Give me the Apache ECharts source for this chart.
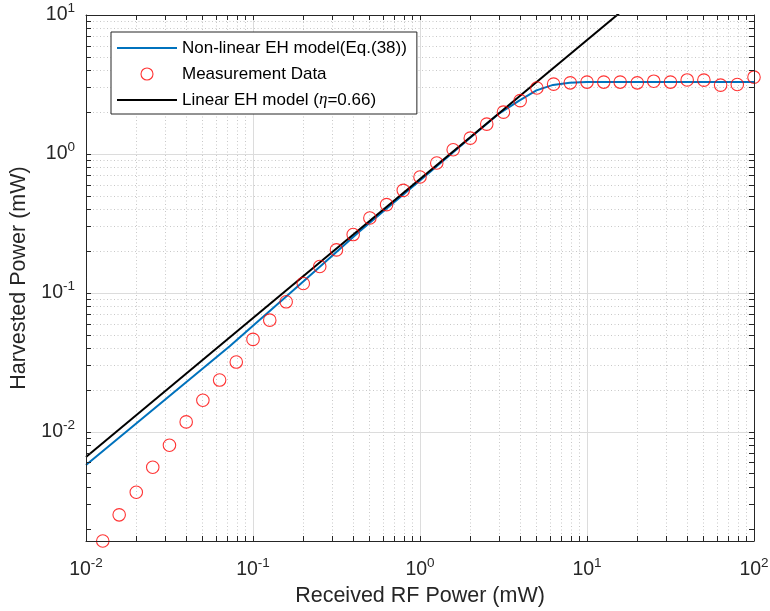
<!DOCTYPE html>
<html>
<head>
<meta charset="utf-8">
<script src="https://cdn.jsdelivr.net/npm/echarts@6/dist/echarts.min.js"></script>
<style>
html,body{margin:0;padding:0;background:#ffffff;}
#chart{width:770px;height:611px;}
</style>
</head>
<body>
<div id="chart"></div>
<script>
// ---- data ----
const rfPower = [0.0126, 0.0158, 0.0200, 0.0251, 0.0316, 0.0398, 0.0501, 0.0631, 0.0794, 0.100,
                 0.126, 0.158, 0.200, 0.251, 0.316, 0.398, 0.501, 0.631, 0.794, 1.00,
                 1.26, 1.58, 2.00, 2.51, 3.16, 3.98, 5.01, 6.31, 7.94, 10.0,
                 12.6, 15.8, 20.0, 25.1, 31.6, 39.8, 50.1, 63.1, 79.4, 100];
const measured = [0.00164, 0.00253, 0.00368, 0.00557, 0.00801, 0.0118, 0.0169, 0.0236, 0.0318, 0.0463,
                  0.0637, 0.0863, 0.117, 0.155, 0.204, 0.263, 0.346, 0.432, 0.547, 0.682,
                  0.861, 1.072, 1.30, 1.64, 2.00, 2.42, 2.98, 3.18, 3.25, 3.29,
                  3.29, 3.29, 3.25, 3.34, 3.29, 3.41, 3.40, 3.13, 3.16, 3.57];
const nonlinearX = [0.01, 0.0725, 0.2, 0.4355, 1.0, 2.0, 3.0, 3.95, 4.98, 6.26, 7.88, 9.92, 100];
const nonlinearY = [0.00577, 0.0414, 0.121, 0.2774, 0.645, 1.31, 1.97, 2.43, 2.87, 3.14, 3.26, 3.30, 3.30];
const linearX = [0.01, 100];
const linearY = [0.0066, 66];
const xMajorTicks = [0.01, 0.1, 1, 10, 100];
const yMajorTicks = [0.01, 0.1, 1, 10];
const yDecadeStarts = [0.001, 0.01, 0.1, 1];
const xDecadeStarts = [0.01, 0.1, 1, 10];
const names = ['Non-linear EH model(Eq.(38))', 'Measurement Data', 'Linear EH model (η=0.66)'];

// ---- helpers ----
const FONT = '"Liberation Sans", Arial, Helvetica, sans-serif';
const AXIS_COLOR = '#262626';
function minors(starts, lo, hi) {
  const out = [];
  starts.forEach(d => { for (let k = 2; k <= 9; k++) { const v = +(d * k).toPrecision(3); if (v >= lo && v <= hi) out.push(v); } });
  return out;
}
const yMin = measured[0], yMax = 10, xMin = 0.01, xMax = 100;
const xMinor = minors(xDecadeStarts, xMin, xMax);
const yMinor = minors(yDecadeStarts, yMin, yMax);
const xAllTicks = xMajorTicks.concat(xMinor).sort((a, b) => a - b);
const yAllTicks = yMajorTicks.concat(yMinor).sort((a, b) => a - b);

function supLabel(v) {
  const e = Math.round(Math.log10(v));
  return '{b|10}{s|' + e + '}';
}
const labelRich = {
  b: {fontSize: 19.5, fontFamily: FONT, color: AXIS_COLOR, lineHeight: 28, verticalAlign: 'middle'},
  s: {fontSize: 13.5, fontFamily: FONT, color: AXIS_COLOR, lineHeight: 12, verticalAlign: 'top'}
};

function pairs(xs, ys) { return xs.map((x, i) => [x, ys[i]]); }

const gridLines = [];
xMinor.forEach(v => gridLines.push({xAxis: v, lineStyle: {color: '#c8c8c8', width: 1, type: [1, 2.5]}}));
yMinor.forEach(v => gridLines.push({yAxis: v, lineStyle: {color: '#c8c8c8', width: 1, type: [1, 2.5]}}));
xMajorTicks.forEach(v => gridLines.push({xAxis: v, lineStyle: {color: '#dcdcdc', width: 1, type: 'solid'}}));
yMajorTicks.forEach(v => gridLines.push({yAxis: v, lineStyle: {color: '#dcdcdc', width: 1, type: 'solid'}}));

function logAxis(pos, min, max, allTicks, majors, withLabels, name) {
  const a = {
    type: 'log', logBase: 10, min: min, max: max, position: pos, gridIndex: 0, z: 5,
    axisLine: {show: true, onZero: false, lineStyle: {color: AXIS_COLOR, width: 1}},
    axisTick: {show: true, inside: true, length: 5, customValues: allTicks, lineStyle: {color: AXIS_COLOR, width: 1}},
    minorTick: {show: false},
    splitLine: {show: false},
    minorSplitLine: {show: false},
    axisLabel: {show: false}
  };
  if (withLabels) {
    a.axisLabel = {show: true, customValues: majors, formatter: supLabel, rich: labelRich,
                   margin: (pos === 'bottom' ? 15 : 11), showMinLabel: true, showMaxLabel: true, hideOverlap: false};
    a.name = name;
    a.nameLocation = 'middle';
    a.nameTextStyle = {fontSize: 21.5, fontFamily: FONT, color: AXIS_COLOR};
    a.nameGap = (pos === 'bottom' ? 44 : 55);
  }
  return a;
}

const LINE_ICON = 'path://M0,0L60,0L60,2L0,2Z';

const option = {
  animation: false,
  backgroundColor: '#ffffff',
  textStyle: {fontFamily: FONT},
  grid: {left: 86, right: 16, top: 15, bottom: 70, containLabel: false, outerBoundsMode: 'none'},
  xAxis: [
    logAxis('bottom', xMin, xMax, xAllTicks, xMajorTicks, true, 'Received RF Power (mW)'),
    logAxis('top', xMin, xMax, xAllTicks, xMajorTicks, false)
  ],
  yAxis: [
    logAxis('left', yMin, yMax, yAllTicks, yMajorTicks, true, 'Harvested Power (mW)'),
    logAxis('right', yMin, yMax, yAllTicks, yMajorTicks, false)
  ],
  legend: {
    orient: 'vertical', left: 111, top: 32,
    padding: [6, 10, 4, 6], itemGap: 6, itemWidth: 60, itemHeight: 12,
    symbolKeepAspect: true,
    backgroundColor: '#ffffff', borderColor: AXIS_COLOR, borderWidth: 1, borderRadius: 0,
    textStyle: {fontSize: 17, fontFamily: FONT, color: '#000000', lineHeight: 20,
                rich: {i: {fontSize: 17, fontStyle: 'italic', fontFamily: '"Liberation Serif", "DejaVu Serif", serif', color: '#000000'}}},
    formatter: function (n) { return n === names[2] ? 'Linear EH model ({i|η}=0.66)' : n; },
    data: [
      {name: names[0], icon: LINE_ICON, itemStyle: {color: '#0072BD'}},
      {name: names[1], icon: 'circle', itemStyle: {color: 'rgba(0,0,0,0)', borderColor: '#ff0000', borderWidth: 1.1}},
      {name: names[2], icon: LINE_ICON, itemStyle: {color: '#000000'}}
    ],
    selectedMode: false, z: 10
  },
  series: [
    {
      type: 'line', name: '__grid', data: [], xAxisIndex: 0, yAxisIndex: 0, silent: true, z: 0,
      markLine: {silent: true, symbol: ['none', 'none'], label: {show: false}, z: 0, animation: false,
                 emphasis: {disabled: true}, data: gridLines}
    },
    {
      type: 'line', name: names[0], data: pairs(nonlinearX, nonlinearY), xAxisIndex: 0, yAxisIndex: 0,
      symbol: 'none', showSymbol: false, clip: true, z: 3,
      lineStyle: {color: '#0072BD', width: 2}, itemStyle: {color: '#0072BD'}
    },
    {
      type: 'scatter', name: names[1], data: pairs(rfPower, measured), xAxisIndex: 0, yAxisIndex: 0,
      symbol: 'circle', symbolSize: 12.5, clip: false, z: 4,
      itemStyle: {color: 'rgba(0,0,0,0)', borderColor: '#ff0000', borderWidth: 1.1}
    },
    {
      type: 'line', name: names[2], data: pairs(linearX, linearY), xAxisIndex: 0, yAxisIndex: 0,
      symbol: 'none', showSymbol: false, clip: true, z: 3,
      lineStyle: {color: '#000000', width: 2}, itemStyle: {color: '#000000'}
    }
  ]
};
const chart = echarts.init(document.getElementById('chart'), null, {renderer: 'canvas'});
chart.setOption(option);
</script>
</body>
</html>
